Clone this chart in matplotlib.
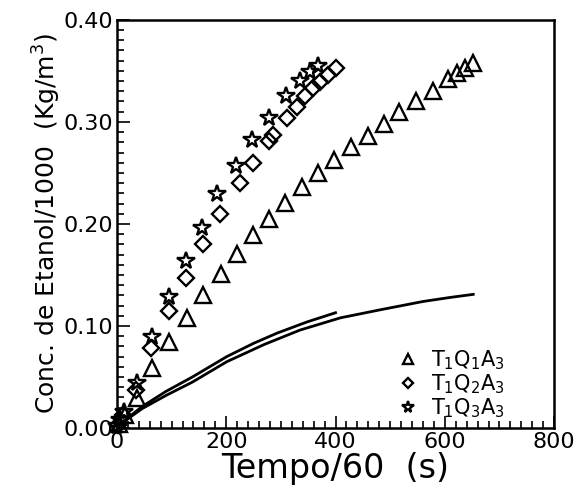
import numpy as np
import matplotlib
matplotlib.use("Agg")
import matplotlib.pyplot as plt
from matplotlib.ticker import MultipleLocator, FuncFormatter

# T1Q1A3 (triangles)
t_q1 = [4, 15, 37, 64, 96, 129, 158, 190, 219, 249, 278, 308, 339, 368, 398,
        429, 459, 488, 517, 547, 578, 606, 622, 637, 652]
c_q1 = [0.004, 0.013, 0.029, 0.059, 0.084, 0.108, 0.130, 0.151, 0.171, 0.189,
        0.205, 0.221, 0.236, 0.250, 0.263, 0.275, 0.286, 0.298, 0.310, 0.320,
        0.330, 0.342, 0.348, 0.353, 0.358]

# T1Q2A3 (diamonds)
t_q2 = [2, 11, 35, 63, 96, 127, 158, 188, 225, 249, 278, 285, 311, 330, 344,
        359, 372, 387, 400]
c_q2 = [0.003, 0.013, 0.037, 0.078, 0.115, 0.147, 0.180, 0.210, 0.240, 0.260,
        0.281, 0.287, 0.304, 0.315, 0.325, 0.333, 0.339, 0.346, 0.353]

# T1Q3A3 (stars)
t_q3 = [0, 5, 13, 37, 64, 96, 127, 155, 184, 217, 247, 278, 309, 335, 354, 368]
c_q3 = [0.002, 0.008, 0.016, 0.044, 0.089, 0.128, 0.164, 0.196, 0.229, 0.257,
        0.282, 0.304, 0.325, 0.340, 0.349, 0.355]

# model curves
t_line1 = [0, 20, 46, 90, 138, 201, 250, 293, 348, 400]
c_line1 = [0, 0.010, 0.021, 0.036, 0.050, 0.070, 0.083, 0.093, 0.104, 0.113]
t_line2 = [0, 20, 46, 90, 138, 201, 270, 335, 409, 483, 560, 610, 652]
c_line2 = [0, 0.009, 0.019, 0.032, 0.045, 0.065, 0.082, 0.096, 0.108, 0.116,
           0.124, 0.128, 0.131]

fig = plt.figure(figsize=(5.76, 4.96), dpi=100)
ax = fig.add_axes([0.203, 0.137, 0.759, 0.823])

ax.plot(t_line1, c_line1, color="black", lw=2)
ax.plot(t_line2, c_line2, color="black", lw=2)

mk = dict(linestyle="none", markerfacecolor="none", markeredgecolor="black",
          markeredgewidth=1.7, clip_on=False)
ax.plot(t_q1, c_q1, marker="^", markersize=11, label=r"T$_1$Q$_1$A$_3$", **mk)
ax.plot(t_q2, c_q2, marker="D", markersize=8, label=r"T$_1$Q$_2$A$_3$", **mk)
ax.plot(t_q3, c_q3, marker="*", markersize=13, label=r"T$_1$Q$_3$A$_3$", **mk)

ax.set_xlim(0, 800)
ax.set_ylim(0, 0.40)
ax.xaxis.set_major_locator(MultipleLocator(200))
ax.xaxis.set_minor_locator(MultipleLocator(20))
ax.yaxis.set_major_locator(MultipleLocator(0.1))
ax.yaxis.set_minor_locator(MultipleLocator(0.01))
ax.xaxis.set_major_formatter(FuncFormatter(lambda v, p: "%d" % v))
ax.yaxis.set_major_formatter(FuncFormatter(lambda v, p: "%.2f" % v))
ax.tick_params(which="both", direction="in", top=False, right=False, width=1.2,
               labelsize=16, pad=3)
ax.tick_params(which="major", length=9)
ax.tick_params(which="minor", length=5)
for s in ax.spines.values():
    s.set_linewidth(1.8)

ax.set_xlabel("Tempo/60  (s)", fontsize=24, labelpad=0)
ax.set_ylabel(r"Conc. de Etanol/1000  (Kg/m$^3$)", fontsize=18, labelpad=0)

leg = ax.legend(loc="lower right", bbox_to_anchor=(0.92, -0.015), frameon=False,
                fontsize=15, markerscale=0.65, handlelength=1.0,
                handletextpad=0.6, labelspacing=0.0, borderpad=0.2)

fig.savefig("out.png", dpi=100)
